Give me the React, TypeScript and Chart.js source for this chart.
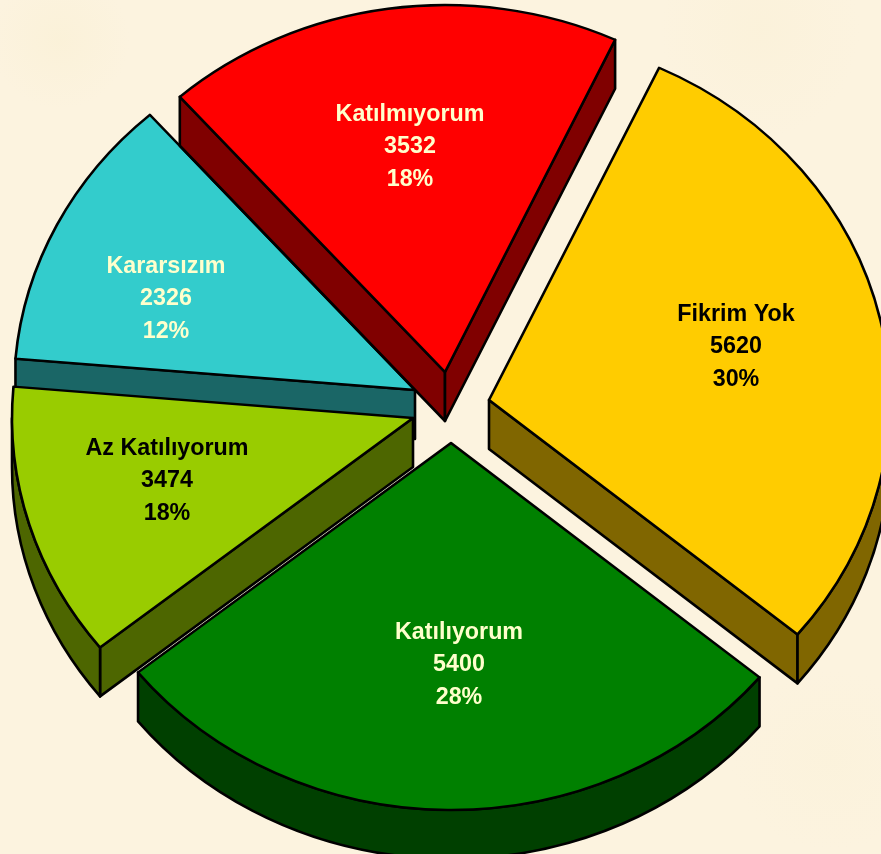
import React, { useEffect, useRef } from "react";
import { Chart, registerables } from "chart.js";

Chart.register(...registerables);

// Text printed on the slices
const categories = ["Katılmıyorum", "Fikrim Yok", "Katılıyorum", "Az Katılıyorum", "Kararsızım"];
const valueLabels = ["3532", "5620", "5400", "3474", "2326"];
const percentLabels = ["18%", "30%", "28%", "18%", "12%"];
// Slice sizes as drawn in the picture (degrees, in the same order)
const sliceSpans = [66.5, 104.6, 101.6, 43.6, 43.7];

// Styling
const topColors = ["#FF0000", "#FFCC00", "#008000", "#99CC00", "#33CCCC"];
const wallColors = ["#800000", "#806600", "#004000", "#4D6600", "#1A6666"];
const textColors = ["#FFFFCC", "#000000", "#FFFFCC", "#000000", "#FFFFCC"];
const explodeX = [-6, 38, 0, -38, -36];
const explodeY = [-33, -5, 38, 13, -15];
const labelShiftX = [-35, 247, 8, -246, -249];
const labelShiftY = [-225, -53, 222, 63, -91];
const paintOrder = [4, 3, 0, 1, 2];
const ROTATION = -41.4;
const RADIUS = 401;
const SQUASH = 0.915;
const DEPTH = 49;
const LINE = 2.6;

const pie3d = {
  id: "pie3d",
  afterDatasetsUpdate(chart: any) {
    chart.getDatasetMeta(0).data.forEach((arc: any, i: number) => {
      arc.x += explodeX[i];
      arc.y += explodeY[i] / SQUASH;
    });
  },
  beforeDatasetsDraw(chart: any) {
    const ctx = chart.ctx as CanvasRenderingContext2D;
    const arcs = chart.getDatasetMeta(0).data;
    const cy = (chart.chartArea.top + chart.chartArea.bottom) / 2;
    const screenY = (y: number) => cy + (y - cy) * SQUASH;
    for (const i of paintOrder) {
      const arc = arcs[i];
      const ax = arc.x;
      const ay = screenY(arc.y);
      const rx = arc.outerRadius;
      const ry = rx * SQUASH;
      const s = arc.startAngle;
      const e = arc.endAngle;
      ctx.save();
      ctx.fillStyle = wallColors[i];
      ctx.strokeStyle = "#000";
      ctx.lineWidth = LINE;
      ctx.lineJoin = "round";
      // Straight side walls, only those facing the viewer
      const faces: number[] = [];
      if (Math.cos(s) < 0) faces.push(s);
      if (Math.cos(e) > 0) faces.push(e);
      for (const t of faces) {
        const px = ax + rx * Math.cos(t);
        const py = ay + ry * Math.sin(t);
        ctx.beginPath();
        ctx.moveTo(ax, ay);
        ctx.lineTo(px, py);
        ctx.lineTo(px, py + DEPTH);
        ctx.lineTo(ax, ay + DEPTH);
        ctx.closePath();
        ctx.fill();
        ctx.stroke();
      }
      // Curved rim: the part of the arc on the near side
      const ns = Math.atan2(Math.sin(s), Math.cos(s));
      const rimStart = Math.max(ns, 0);
      const rimEnd = Math.min(ns + (e - s), Math.PI);
      if (rimEnd > rimStart) {
        ctx.beginPath();
        ctx.ellipse(ax, ay, rx, ry, 0, rimStart, rimEnd);
        ctx.ellipse(ax, ay + DEPTH, rx, ry, 0, rimEnd, rimStart, true);
        ctx.closePath();
        ctx.fill();
        ctx.stroke();
      }
      ctx.restore();

      ctx.save();
      ctx.translate(0, cy);
      ctx.scale(1, SQUASH);
      ctx.translate(0, -cy);
      arc.draw(ctx);
      ctx.restore();
    }
    // Labels
    ctx.save();
    ctx.font = 'bold 23.3px "Liberation Sans", Arial, sans-serif';
    ctx.textAlign = "center";
    ctx.textBaseline = "middle";
    arcs.forEach((arc: any, i: number) => {
      const lx = arc.x + labelShiftX[i];
      const ly = screenY(arc.y) + labelShiftY[i];
      ctx.fillStyle = textColors[i];
      [categories[i], valueLabels[i], percentLabels[i]].forEach((t, n) => {
        ctx.fillText(t, lx, ly + (n - 1) * 32.3);
      });
    });
    ctx.restore();
    return false;
  },
};

export default function App() {
  const ref = useRef<HTMLCanvasElement>(null);
  useEffect(() => {
    document.body.style.margin = "0";
    const chart = new Chart(ref.current as HTMLCanvasElement, {
      type: "pie",
      data: {
        labels: categories,
        datasets: [
          {
            data: sliceSpans,
            backgroundColor: topColors,
            borderColor: "#000000",
            borderWidth: LINE,
            borderJoinStyle: "round",
          },
        ],
      },
      options: {
        animation: false,
        responsive: false,
        rotation: ROTATION,
        radius: RADIUS,
        layout: { padding: { left: 21, right: 0, top: 0, bottom: 44 } },
        plugins: { legend: { display: false }, tooltip: { enabled: false } },
      },
      plugins: [pie3d],
    } as any);
    return () => chart.destroy();
  }, []);
  return (
    <div
      style={{
        position: "relative",
        width: 881,
        height: 854,
        overflow: "hidden",
        backgroundColor: "#FCF3DF",
        backgroundImage:
          "radial-gradient(ellipse at 60px 40px, rgba(248,238,205,.35), transparent 70px), radial-gradient(ellipse at 760px 30px, rgba(249,239,210,.35), transparent 100px), radial-gradient(ellipse at 830px 760px, rgba(250,241,214,.35), transparent 100px)",
      }}
    >
      <canvas ref={ref} width={881} height={854} style={{ display: "block" }} />
    </div>
  );
}
